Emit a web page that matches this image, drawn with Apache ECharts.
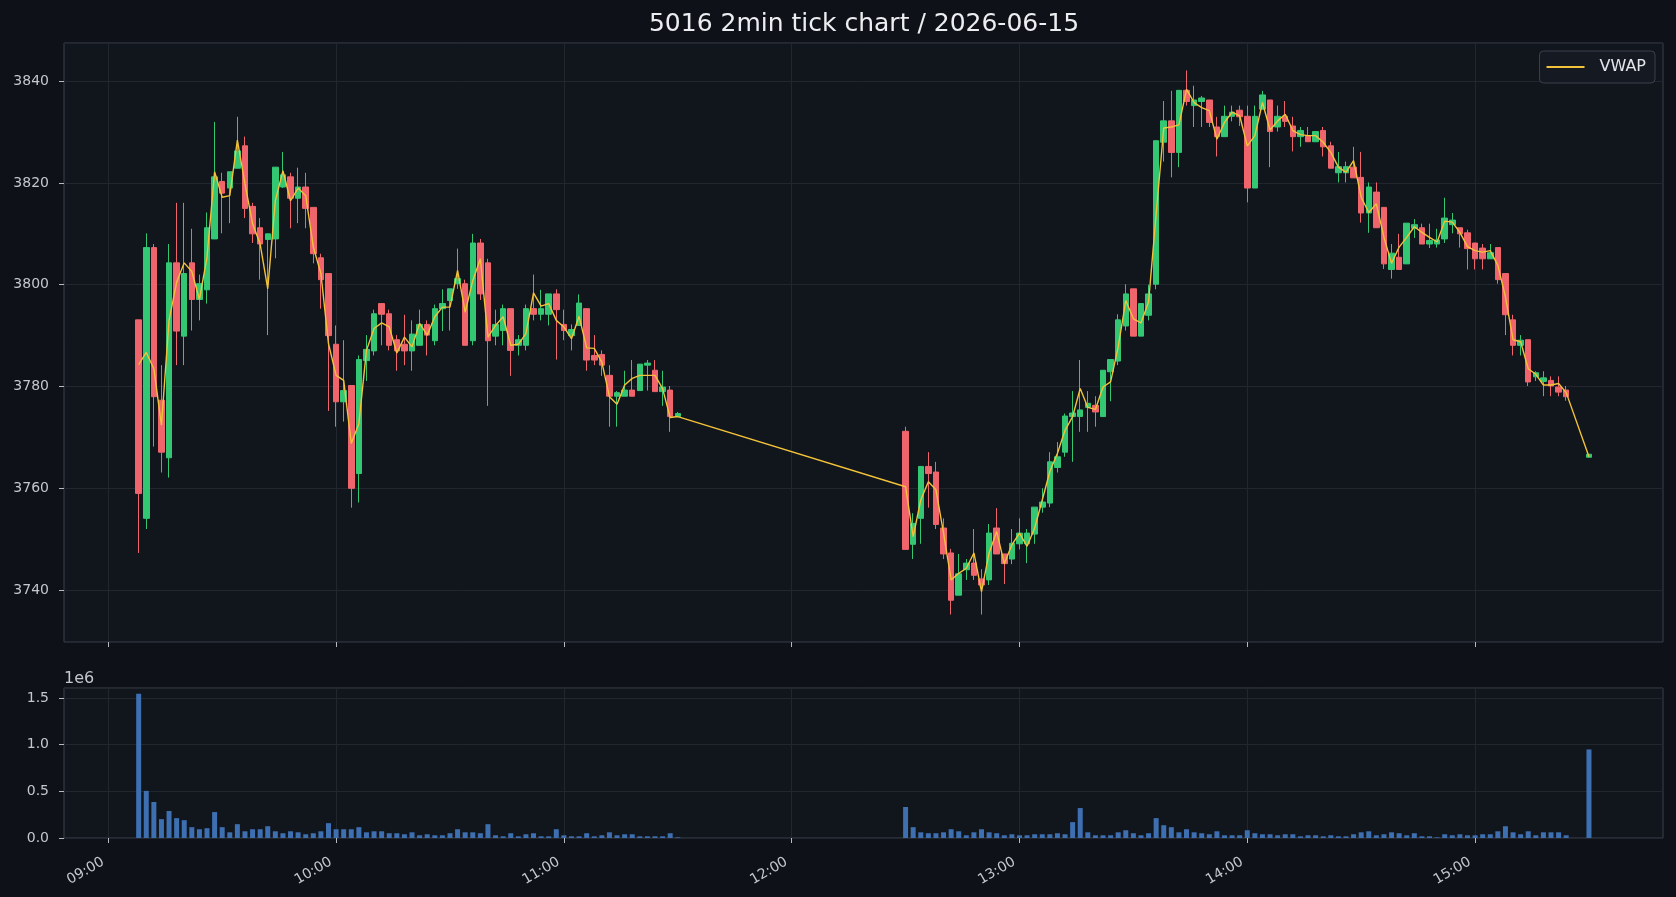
<!DOCTYPE html>
<html lang="en" style="height: 100%">
  <head>
    <meta charset="utf-8" />
  </head>
  <body style="height: 100%; margin: 0; background: #0e1117">
    <div id="container" style="width: 1676px; height: 897px"></div>

    <script
      type="text/javascript"
      src="https://fastly.jsdelivr.net/npm/echarts@6/dist/echarts.min.js"
    ></script>

    <script type="text/javascript">
      // 2-minute bars, 5016, 2026-06-15
      var barTimes = [
        "09:08","09:10","09:12","09:14","09:16","09:18","09:20","09:22","09:24","09:26",
        "09:28","09:30","09:32","09:34","09:36","09:38","09:40","09:42","09:44","09:46",
        "09:48","09:50","09:52","09:54","09:56","09:58","10:00","10:02","10:04","10:06",
        "10:08","10:10","10:12","10:14","10:16","10:18","10:20","10:22","10:24","10:26",
        "10:28","10:30","10:32","10:34","10:36","10:38","10:40","10:42","10:44","10:46",
        "10:48","10:50","10:52","10:54","10:56","10:58","11:00","11:02","11:04","11:06",
        "11:08","11:10","11:12","11:14","11:16","11:18","11:20","11:22","11:24","11:26",
        "11:28","11:30",
        "12:30","12:32","12:34","12:36","12:38","12:40","12:42","12:44","12:46","12:48",
        "12:50","12:52","12:54","12:56","12:58","13:00","13:02","13:04","13:06","13:08",
        "13:10","13:12","13:14","13:16","13:18","13:20","13:22","13:24","13:26","13:28",
        "13:30","13:32","13:34","13:36","13:38","13:40","13:42","13:44","13:46","13:48",
        "13:50","13:52","13:54","13:56","13:58","14:00","14:02","14:04","14:06","14:08",
        "14:10","14:12","14:14","14:16","14:18","14:20","14:22","14:24","14:26","14:28",
        "14:30","14:32","14:34","14:36","14:38","14:40","14:42","14:44","14:46","14:48",
        "14:50","14:52","14:54","14:56","14:58","15:00","15:02","15:04","15:06","15:08",
        "15:10","15:12","15:14","15:16","15:18","15:20","15:22","15:24","15:30"
      ];

      var opens = [
        3793.1, 3754.1, 3807.3, 3777.3, 3766.0, 3804.3, 3789.9, 3804.3, 3797.1, 3799.0,
        3809.0, 3820.3, 3819.0, 3822.9, 3827.3, 3815.4, 3811.2, 3808.9, 3809.0, 3819.2,
        3821.2, 3817.0, 3819.2, 3815.2, 3805.3, 3802.2, 3788.3, 3777.0, 3780.2, 3762.9,
        3785.1, 3787.0, 3796.3, 3794.3, 3789.2, 3788.3, 3787.0, 3788.1, 3792.2, 3789.0,
        3795.3, 3796.9, 3800.2, 3800.2, 3789.0, 3808.2, 3804.3, 3789.9, 3791.0, 3795.3,
        3788.1, 3788.1, 3795.3, 3794.2, 3794.2, 3798.2, 3792.2, 3790.0, 3792.0, 3795.3,
        3786.1, 3786.3, 3782.2, 3778.1, 3778.1, 3779.3, 3779.2, 3784.2, 3783.2, 3779.0,
        3779.3, 3774.1,
        3771.2, 3749.0, 3754.1, 3764.3, 3763.2, 3752.2, 3747.3, 3739.0, 3744.0, 3745.3,
        3742.2, 3742.0, 3752.2, 3747.1, 3746.1, 3749.1, 3749.1, 3751.0, 3756.3, 3757.1,
        3764.1, 3767.1, 3774.1, 3774.1, 3775.9, 3776.3, 3774.1, 3782.9, 3785.0, 3791.9,
        3799.2, 3789.9, 3794.0, 3800.1, 3828.0, 3832.2, 3826.0, 3838.2, 3835.2, 3836.0,
        3836.3, 3831.0, 3829.1, 3833.1, 3834.3, 3833.1, 3819.0, 3834.5, 3836.3, 3831.0,
        3833.1, 3831.2, 3829.1, 3829.3, 3828.1, 3830.3, 3827.3, 3822.0, 3822.0, 3823.1,
        3821.1, 3814.1, 3818.2, 3815.2, 3803.0, 3805.4, 3804.1, 3811.1, 3811.2, 3808.0,
        3808.0, 3809.0, 3811.8, 3811.2, 3810.2, 3808.2, 3807.2, 3805.1, 3807.3, 3802.2,
        3793.1, 3788.1, 3789.2, 3781.9, 3781.0, 3781.2, 3779.9, 3779.3, 3766.1
      ];

      var closes = [
        3759.0, 3807.3, 3778.0, 3767.1, 3804.3, 3790.9, 3802.2, 3797.1, 3800.2, 3811.2,
        3821.2, 3818.0, 3822.2, 3826.3, 3815.0, 3810.0, 3808.0, 3810.0, 3823.1, 3821.6,
        3817.0, 3819.2, 3815.0, 3806.1, 3801.0, 3790.0, 3777.0, 3779.2, 3760.0, 3785.3,
        3787.3, 3794.3, 3794.2, 3788.1, 3787.0, 3787.0, 3790.3, 3792.2, 3790.1, 3795.3,
        3796.3, 3799.2, 3801.2, 3788.1, 3808.2, 3798.2, 3789.0, 3792.2, 3795.3, 3787.1,
        3789.2, 3795.3, 3794.2, 3795.3, 3798.2, 3795.1, 3791.0, 3791.2, 3796.4, 3785.2,
        3785.2, 3784.2, 3778.1, 3778.8, 3779.3, 3778.1, 3784.4, 3784.6, 3779.0, 3779.9,
        3774.1, 3774.7,
        3748.0, 3753.1, 3764.3, 3762.9, 3752.9, 3747.1, 3738.0, 3743.2, 3745.3, 3742.9,
        3741.0, 3751.2, 3747.1, 3745.2, 3749.2, 3751.2, 3751.2, 3756.3, 3757.3, 3765.2,
        3766.2, 3774.2, 3774.8, 3775.4, 3776.7, 3775.0, 3783.2, 3785.3, 3793.1, 3798.2,
        3789.9, 3796.3, 3798.2, 3828.3, 3832.2, 3826.0, 3838.2, 3836.0, 3836.3, 3836.7,
        3831.9, 3829.1, 3833.1, 3833.9, 3833.0, 3819.0, 3833.1, 3837.3, 3830.1, 3833.1,
        3832.1, 3829.1, 3830.3, 3828.1, 3830.1, 3827.1, 3822.9, 3823.2, 3823.2, 3821.0,
        3814.1, 3819.2, 3811.2, 3804.1, 3806.2, 3803.0, 3812.1, 3811.8, 3808.0, 3808.7,
        3808.8, 3813.1, 3812.7, 3810.0, 3807.1, 3805.1, 3805.1, 3806.3, 3801.0, 3794.1,
        3788.1, 3789.1, 3780.9, 3782.7, 3781.7, 3780.1, 3778.9, 3778.0, 3766.7
      ];

      var lows = [
        3747.3, 3752.0, 3768.2, 3763.1, 3762.1, 3784.2, 3784.2, 3791.0, 3793.0, 3796.3,
        3809.0, 3810.1, 3812.1, 3822.9, 3813.1, 3808.2, 3801.0, 3790.1, 3805.2, 3819.0,
        3811.1, 3812.1, 3811.1, 3804.2, 3795.3, 3775.2, 3772.1, 3773.1, 3756.2, 3757.2,
        3781.1, 3786.1, 3788.1, 3787.1, 3783.1, 3784.2, 3783.1, 3788.1, 3786.1, 3788.1,
        3790.9, 3791.0, 3799.2, 3788.1, 3788.1, 3797.0, 3776.2, 3788.1, 3788.1, 3782.1,
        3786.1, 3787.1, 3793.0, 3793.0, 3792.0, 3785.3, 3789.1, 3787.1, 3792.0, 3783.1,
        3784.2, 3782.1, 3772.1, 3772.1, 3778.1, 3778.1, 3779.2, 3779.2, 3779.0, 3776.2,
        3771.1, 3774.0,
        3748.0, 3746.1, 3749.1, 3756.2, 3752.0, 3746.1, 3735.2, 3739.0, 3742.0, 3742.0,
        3735.2, 3741.0, 3747.1, 3741.2, 3745.1, 3748.0, 3745.3, 3749.1, 3755.2, 3756.3,
        3763.1, 3766.2, 3765.2, 3771.1, 3771.1, 3772.1, 3774.1, 3777.1, 3784.2, 3791.0,
        3789.9, 3789.9, 3793.0, 3799.1, 3824.2, 3821.1, 3823.1, 3835.2, 3831.0, 3831.0,
        3831.0, 3825.2, 3829.1, 3832.1, 3831.2, 3816.2, 3819.0, 3834.5, 3823.1, 3830.1,
        3831.0, 3826.2, 3827.1, 3828.1, 3828.1, 3825.2, 3822.9, 3820.1, 3820.1, 3821.0,
        3812.2, 3810.2, 3811.2, 3803.1, 3801.2, 3803.0, 3804.1, 3809.2, 3808.0, 3807.2,
        3807.3, 3808.2, 3810.1, 3807.3, 3803.0, 3803.0, 3803.0, 3805.1, 3800.2, 3790.1,
        3786.1, 3786.1, 3780.1, 3781.1, 3778.1, 3778.1, 3778.1, 3777.2, 3766.1
      ];

      var highs = [
        3793.1, 3810.1, 3808.0, 3784.2, 3808.0, 3816.1, 3816.1, 3811.0, 3802.0, 3814.2,
        3832.0, 3822.0, 3822.2, 3833.0, 3829.1, 3816.1, 3813.1, 3810.1, 3823.1, 3826.1,
        3822.0, 3823.0, 3822.0, 3815.2, 3806.1, 3802.2, 3792.0, 3789.1, 3780.3, 3786.1,
        3790.1, 3795.1, 3796.3, 3795.1, 3790.1, 3794.1, 3793.0, 3795.1, 3793.0, 3796.1,
        3799.1, 3799.2, 3807.1, 3801.0, 3810.0, 3809.0, 3805.1, 3795.1, 3796.1, 3795.3,
        3790.1, 3796.1, 3802.0, 3799.0, 3798.2, 3799.1, 3795.1, 3792.2, 3798.1, 3795.3,
        3790.1, 3787.1, 3784.2, 3779.1, 3783.1, 3785.2, 3784.4, 3785.2, 3785.2, 3783.1,
        3780.1, 3775.0,
        3772.1, 3755.1, 3764.3, 3767.1, 3765.2, 3754.1, 3748.1, 3747.1, 3746.1, 3752.0,
        3744.1, 3753.0, 3756.1, 3747.1, 3752.0, 3754.1, 3752.0, 3756.3, 3760.0, 3767.1,
        3769.1, 3774.7, 3779.1, 3785.2, 3779.1, 3778.1, 3783.2, 3785.3, 3794.2, 3800.1,
        3799.2, 3796.3, 3800.0, 3828.3, 3836.1, 3838.1, 3838.2, 3842.1, 3839.1, 3837.1,
        3836.3, 3833.0, 3835.2, 3835.2, 3835.2, 3835.2, 3835.2, 3838.1, 3836.3, 3835.2,
        3836.1, 3833.0, 3831.0, 3831.0, 3830.1, 3831.0, 3828.1, 3826.1, 3824.2, 3827.1,
        3826.1, 3820.1, 3820.1, 3815.2, 3808.0, 3810.0, 3812.1, 3812.9, 3812.0, 3812.0,
        3811.0, 3817.1, 3814.1, 3811.2, 3810.8, 3808.2, 3808.0, 3808.0, 3807.3, 3802.2,
        3794.1, 3790.1, 3789.2, 3783.0, 3783.0, 3782.0, 3782.0, 3780.1, 3766.7
      ];

      var vwap = [
        3784.3, 3786.7, 3783.5, 3772.4, 3793.0, 3800.5, 3804.3, 3802.6, 3797.1, 3805.4,
        3822.2, 3817.2, 3817.5, 3828.4, 3819.8, 3812.0, 3808.0, 3799.2, 3816.5, 3822.4,
        3816.5, 3819.0, 3817.5, 3807.4, 3802.2, 3788.4, 3782.2, 3781.2, 3768.8, 3772.7,
        3787.1, 3791.4, 3792.5, 3791.7, 3786.6, 3789.7, 3787.8, 3792.4, 3790.1, 3793.7,
        3795.6, 3795.6, 3802.8, 3794.6, 3800.8, 3805.1, 3789.7, 3792.0, 3793.7, 3788.1,
        3788.3, 3790.4, 3798.4, 3795.8, 3796.3, 3793.0, 3791.7, 3789.4, 3793.8, 3787.6,
        3787.5, 3784.8, 3778.0, 3776.5, 3780.3, 3781.6, 3782.2, 3782.2, 3782.2, 3779.6,
        3773.9, 3774.1,
        3760.3, 3750.5, 3757.7, 3761.3, 3759.7, 3751.2, 3742.0, 3743.3, 3744.3, 3747.3,
        3739.7, 3747.3, 3751.5, 3745.2, 3748.9, 3751.2, 3748.6, 3752.2, 3757.7, 3763.3,
        3766.9, 3771.4, 3774.1, 3779.6, 3775.9, 3775.5, 3779.9, 3780.9, 3787.8, 3796.9,
        3793.3, 3792.5, 3796.6, 3813.9, 3830.8, 3831.0, 3831.4, 3838.4, 3835.8, 3834.8,
        3834.2, 3828.6, 3831.9, 3833.9, 3833.2, 3827.3, 3829.3, 3835.8, 3830.4, 3832.2,
        3833.5, 3830.3, 3829.5, 3829.3, 3829.3, 3828.0, 3826.0, 3823.1, 3822.1, 3824.4,
        3817.2, 3814.2, 3815.9, 3809.3, 3804.2, 3807.4, 3809.3, 3811.4, 3810.3, 3809.3,
        3808.4, 3812.5, 3812.3, 3810.3, 3807.5, 3806.7, 3806.4, 3806.7, 3803.8, 3797.6,
        3789.2, 3788.8, 3783.5, 3782.4, 3780.3, 3780.3, 3780.6, 3778.8, 3766.2
      ];

      var volumes = [
        1545000, 505000, 386000, 202000, 289000, 213000, 191000, 116000, 94000, 105000,
        278000, 116000, 61000, 148000, 72000, 94000, 94000, 126000, 72000, 51000,
        72000, 61000, 40000, 51000, 72000, 159000, 94000, 94000, 94000, 116000,
        61000, 72000, 72000, 51000, 51000, 40000, 61000, 29000, 40000, 29000,
        29000, 51000, 94000, 61000, 61000, 51000, 148000, 29000, 18000, 51000,
        18000, 40000, 51000, 18000, 18000, 94000, 29000, 18000, 18000, 51000,
        18000, 29000, 61000, 29000, 40000, 40000, 18000, 18000, 18000, 18000,
        51000, 7000,
        332000, 116000, 61000, 51000, 51000, 61000, 94000, 72000, 29000, 61000,
        94000, 61000, 51000, 29000, 40000, 29000, 29000, 40000, 40000, 40000,
        51000, 40000, 170000, 321000, 61000, 29000, 29000, 29000, 61000, 83000,
        51000, 29000, 51000, 213000, 137000, 116000, 61000, 94000, 61000, 51000,
        40000, 72000, 29000, 29000, 29000, 83000, 51000, 40000, 40000, 29000,
        40000, 40000, 18000, 29000, 29000, 18000, 29000, 18000, 18000, 40000,
        61000, 72000, 29000, 40000, 61000, 51000, 29000, 51000, 18000, 18000,
        7000, 40000, 29000, 40000, 29000, 29000, 40000, 40000, 72000, 126000,
        61000, 40000, 72000, 29000, 61000, 61000, 61000, 29000, 949000
      ];

      var hourTicks = ["09:00", "10:00", "11:00", "12:00", "13:00", "14:00", "15:00"];

      function ts(hhmm, sec) {
        var p = hhmm.split(":");
        return new Date(2026, 5, 15, +p[0], +p[1], sec || 0).getTime();
      }
      function pad(n) {
        return n < 10 ? "0" + n : "" + n;
      }
      function hhmm(v) {
        var d = new Date(v);
        return pad(d.getHours()) + ":" + pad(d.getMinutes());
      }

      var candleData = barTimes.map(function (t, i) {
        return [ts(t), opens[i], closes[i], lows[i], highs[i]];
      });
      var vwapData = barTimes.map(function (t, i) {
        return [ts(t), vwap[i]];
      });
      var volData = barTimes.map(function (t, i) {
        return [ts(t), volumes[i]];
      });
      var hourValues = hourTicks.map(function (t) {
        return ts(t);
      });

      var xMin = ts("08:48", 20);
      var xMax = ts("15:49", 30);

      var BG = "#0e1117";
      var PANEL = "#11151c";
      var FRAME = "#3a414c";
      var GRIDLINE = "#22272f";
      var TEXT = "#c3c7ce";
      var TICK = "#b5bac3";
      var UP = "#33c774";
      var DOWN = "#f0646c";

      // timestamps on a plain value axis, hourly ticks given explicitly
      function timeAxis(gridIndex, withLabels) {
        return {
          type: "value",
          gridIndex: gridIndex,
          min: xMin,
          max: xMax,
          axisLine: { show: false },
          axisTick: {
            show: true,
            length: 5,
            customValues: hourValues,
            lineStyle: { color: TICK },
          },
          axisLabel: {
            show: withLabels,
            customValues: hourValues,
            rotate: 30,
            margin: 20,
            padding: [0, 6, 0, 0],
            color: TEXT,
            fontSize: 14,
            formatter: function (v) {
              return hhmm(v);
            },
          },
          splitLine: { show: true, lineStyle: { color: GRIDLINE, width: 1 } },
        };
      }

      var dom = document.getElementById("container");
      var myChart = echarts.init(dom, null, { renderer: "canvas" });

      var option = {
        backgroundColor: BG,
        animation: false,
        textStyle: { fontFamily: "DejaVu Sans" },
        title: {
          text: "5016 2min tick chart / 2026-06-15",
          left: 859,
          top: 7,
          textAlign: "center",
          textStyle: {
            color: "#eceef1",
            fontSize: 25,
            fontWeight: "normal",
            fontFamily: "DejaVu Sans",
          },
        },
        legend: {
          data: [{ name: "VWAP", icon: "rect" }],
          right: 21,
          top: 51,
          itemWidth: 38,
          itemHeight: 2,
          selectedMode: false,
          backgroundColor: "#141922",
          borderColor: FRAME,
          borderWidth: 1,
          borderRadius: 4,
          padding: [8, 9, 8, 7],
          textStyle: {
            color: "#e4e6ea",
            fontSize: 16,
            padding: [0, 0, 0, 10],
          },
        },
        grid: [
          {
            left: 64,
            right: 13,
            top: 43,
            height: 599,
            show: true,
            backgroundColor: PANEL,
            borderColor: FRAME,
            borderWidth: 1,
            outerBoundsMode: "none",
          },
          {
            left: 64,
            right: 13,
            top: 688,
            height: 150,
            show: true,
            backgroundColor: PANEL,
            borderColor: FRAME,
            borderWidth: 1,
            outerBoundsMode: "none",
          },
        ],
        xAxis: [timeAxis(0, false), timeAxis(1, true)],
        yAxis: [
          {
            type: "value",
            gridIndex: 0,
            min: 3729.8,
            max: 3847.5,
            splitNumber: 6,
            axisLine: { show: false },
            axisTick: { show: true, length: 5, lineStyle: { color: TICK } },
            axisLabel: {
              color: TEXT,
              fontSize: 14,
              margin: 15,
              showMinLabel: false,
              showMaxLabel: false,
              formatter: function (v) {
                return Math.round(v) + "";
              },
            },
            splitLine: { lineStyle: { color: GRIDLINE, width: 1 } },
          },
          {
            type: "value",
            gridIndex: 1,
            min: 0,
            max: 1607000,
            interval: 500000,
            name: "1e6",
            nameLocation: "end",
            nameGap: 1,
            nameTextStyle: {
              color: TEXT,
              fontSize: 16,
              align: "left",
              verticalAlign: "bottom",
            },
            axisLine: { show: false },
            axisTick: { show: true, length: 5, lineStyle: { color: TICK } },
            axisLabel: {
              color: TEXT,
              fontSize: 14,
              margin: 15,
              showMaxLabel: false,
              formatter: function (v) {
                return (v / 1e6).toFixed(1);
              },
            },
            splitLine: { lineStyle: { color: GRIDLINE, width: 1 } },
          },
        ],
        series: [
          {
            name: "price",
            type: "candlestick",
            xAxisIndex: 0,
            yAxisIndex: 0,
            barWidth: 6,
            encode: { x: 0, y: [1, 2, 3, 4] },
            itemStyle: {
              color: UP,
              color0: DOWN,
              borderColor: UP,
              borderColor0: DOWN,
              borderWidth: 1,
            },
            data: candleData,
          },
          {
            name: "VWAP",
            type: "line",
            xAxisIndex: 0,
            yAxisIndex: 0,
            showSymbol: false,
            z: 5,
            lineStyle: { color: "#f2c23a", width: 1.4 },
            itemStyle: { color: "#f2c23a" },
            data: vwapData,
          },
          {
            name: "volume",
            type: "bar",
            xAxisIndex: 1,
            yAxisIndex: 1,
            barWidth: 5,
            itemStyle: { color: "#3d6fb1" },
            data: volData,
          },
        ],
      };

      myChart.setOption(option);
      window.addEventListener("resize", myChart.resize);
    </script>
  </body>
</html>
